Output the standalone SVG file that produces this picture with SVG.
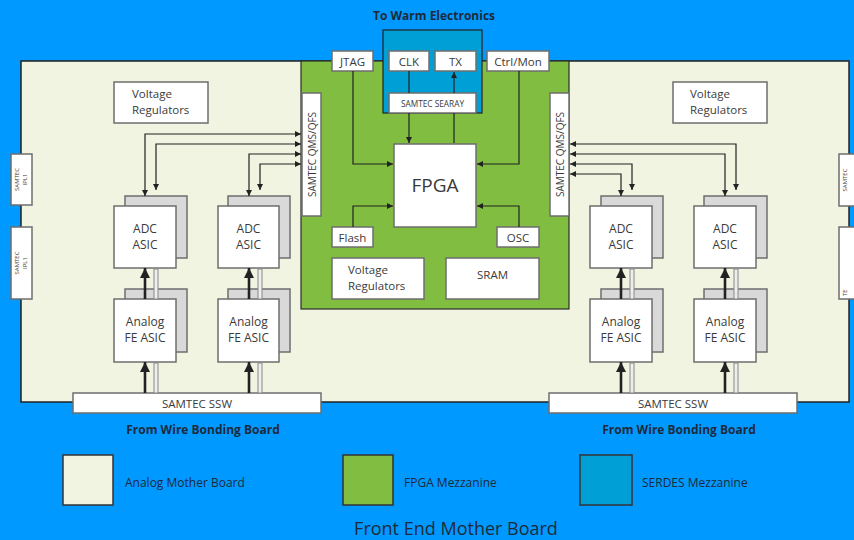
<svg xmlns="http://www.w3.org/2000/svg" width="854" height="540" viewBox="0 0 854 540">
<style>
text{font-family:"Open Sans","Liberation Sans",sans-serif;fill:#3a3a3a}
.box{fill:#fff;stroke:#6e6e6e;stroke-width:1.5}
.sh{fill:#d9d9d9;stroke:#6e6e6e;stroke-width:1.5}
.t12{font-size:12px;text-anchor:middle}
.t11{font-size:11.5px}
.c{text-anchor:middle}
.ln{fill:none;stroke:#222;stroke-width:1.2}
.thick{fill:none;stroke:#222;stroke-width:2.6}
.pipe{fill:#eee;stroke:#888;stroke-width:1}
.bold{font-weight:bold;font-size:12px;text-anchor:middle;fill:#1e2a3a}
.leg{font-size:12px;fill:#1e2a3a}
</style>
<defs>
<marker id="ah" viewBox="0 0 10 10" refX="10" refY="5" markerWidth="7" markerHeight="6" markerUnits="userSpaceOnUse" orient="auto-start-reverse"><path d="M0,0 L10,5 L0,10 Z" fill="#222"/></marker>
<marker id="ahb" viewBox="0 0 10 10" refX="10" refY="5" markerWidth="10" markerHeight="10" markerUnits="userSpaceOnUse" orient="auto"><path d="M0,0 L10,5 L0,10 Z" fill="#222"/></marker>
</defs>
<rect width="854" height="540" fill="#0099ff"/>

<g id="analog-board"><rect x="21" y="61" width="828" height="341" fill="#f1f4e1" stroke="#222" stroke-width="1.5"/></g>
<g id="fpga-mezz"><rect x="301" y="61" width="268" height="248" fill="#80bd41" stroke="#2a2a2a" stroke-width="1.2"/></g>
<g id="serdes-mezz"><rect x="383" y="30" width="99" height="83" fill="#00a0d6" stroke="#222" stroke-width="1.2"/></g>

<text x="434" y="20" class="bold">To Warm Electronics</text>

<g id="side-left-1"><rect x="11" y="154" width="21" height="51" class="box"/><text transform="translate(19,179.5) rotate(-90)" font-size="6" class="c">SAMTEC</text><text transform="translate(27,179.5) rotate(-90)" font-size="6" class="c">IPL1</text></g>
<g id="side-left-2"><rect x="11" y="227" width="21" height="72" class="box"/><text transform="translate(19,263) rotate(-90)" font-size="6" class="c">SAMTEC</text><text transform="translate(27,263) rotate(-90)" font-size="6" class="c">IPL1</text></g>
<g id="side-right-1"><rect x="839" y="154" width="21" height="52" class="box"/><text transform="translate(847,180) rotate(-90)" font-size="6" class="c">SAMTEC</text></g>
<g id="side-right-2"><rect x="839" y="227" width="21" height="72" class="box"/><text transform="translate(847,296) rotate(-90)" font-size="6">TE</text></g>

<g id="jtag"><rect x="332" y="51" width="41" height="20" class="box"/><text x="352.5" y="66" class="t11 c">JTAG</text></g>
<g id="clk"><rect x="389" y="51" width="40" height="20" class="box"/><text x="409" y="66" class="t11 c">CLK</text></g>
<g id="tx"><rect x="435" y="51" width="41" height="20" class="box"/><text x="455.5" y="66" class="t11 c">TX</text></g>
<g id="ctrlmon"><rect x="487" y="51" width="62" height="20" class="box"/><text x="518" y="66" class="t11 c">Ctrl/Mon</text></g>
<g id="searay"><rect x="389" y="93" width="87" height="20" class="box"/><text x="432.5" y="107" font-size="8.3" class="c">SAMTEC SEARAY</text></g>
<g id="fpga"><rect x="394" y="144" width="82" height="83" class="box"/><text x="435" y="192" font-size="19" class="c">FPGA</text></g>
<g id="flash"><rect x="332" y="227" width="41" height="20" class="box"/><text x="352.5" y="242" class="t11 c">Flash</text></g>
<g id="osc"><rect x="497" y="227" width="42" height="20" class="box"/><text x="518" y="242" class="t11 c">OSC</text></g>
<g id="vreg-center"><rect x="332" y="258" width="92" height="41" class="box"/><text x="348" y="274" class="t11">Voltage</text><text x="348" y="290" class="t11">Regulators</text></g>
<g id="sram"><rect x="446" y="258" width="93" height="41" class="box"/><text x="492.5" y="279" class="t11 c">SRAM</text></g>
<g id="qms-left"><rect x="302" y="93" width="19" height="123" class="box"/><text transform="translate(315.5,154.5) rotate(-90)" font-size="10" class="c">SAMTEC QMS/QFS</text></g>
<g id="qms-right"><rect x="550" y="93" width="19" height="123" class="box"/><text transform="translate(563.5,154.5) rotate(-90)" font-size="10" class="c">SAMTEC QMS/QFS</text></g>

<g id="vreg-left"><rect x="114" y="82" width="94" height="41" class="box"/><text x="132" y="98" class="t11">Voltage</text><text x="132" y="114" class="t11">Regulators</text></g>
<g id="vreg-right"><rect x="673" y="82" width="94" height="41" class="box"/><text x="690" y="98" class="t11">Voltage</text><text x="690" y="114" class="t11">Regulators</text></g>

<g id="adc-l1"><rect x="125" y="196" width="62" height="62" class="sh"/><rect x="114" y="206" width="62" height="62" class="box"/><text x="145" y="233" class="t12">ADC</text><text x="145" y="249" class="t12">ASIC</text></g>
<g id="adc-l2"><rect x="228" y="196" width="62" height="62" class="sh"/><rect x="218" y="206" width="61" height="62" class="box"/><text x="248.5" y="233" class="t12">ADC</text><text x="248.5" y="249" class="t12">ASIC</text></g>
<g id="fe-l1"><rect x="125" y="289" width="62" height="63" class="sh"/><rect x="114" y="299" width="62" height="63" class="box"/><text x="145" y="326" class="t12">Analog</text><text x="145" y="342" class="t12">FE ASIC</text></g>
<g id="fe-l2"><rect x="228" y="289" width="62" height="63" class="sh"/><rect x="218" y="299" width="61" height="63" class="box"/><text x="248.5" y="326" class="t12">Analog</text><text x="248.5" y="342" class="t12">FE ASIC</text></g>
<g id="adc-r1"><rect x="601" y="196" width="62" height="62" class="sh"/><rect x="590" y="206" width="62" height="62" class="box"/><text x="621" y="233" class="t12">ADC</text><text x="621" y="249" class="t12">ASIC</text></g>
<g id="adc-r2"><rect x="704" y="196" width="63" height="62" class="sh"/><rect x="694" y="206" width="62" height="62" class="box"/><text x="725" y="233" class="t12">ADC</text><text x="725" y="249" class="t12">ASIC</text></g>
<g id="fe-r1"><rect x="601" y="289" width="62" height="63" class="sh"/><rect x="590" y="299" width="62" height="63" class="box"/><text x="621" y="326" class="t12">Analog</text><text x="621" y="342" class="t12">FE ASIC</text></g>
<g id="fe-r2"><rect x="704" y="289" width="63" height="63" class="sh"/><rect x="694" y="299" width="62" height="63" class="box"/><text x="725" y="326" class="t12">Analog</text><text x="725" y="342" class="t12">FE ASIC</text></g>

<g id="ssw-left"><rect x="73" y="393" width="248" height="20" class="box"/><text x="197" y="408" class="t11 c">SAMTEC SSW</text></g>
<g id="ssw-right"><rect x="549" y="393" width="248" height="20" class="box"/><text x="673" y="408" class="t11 c">SAMTEC SSW</text></g>
<text x="203" y="434" class="bold">From Wire Bonding Board</text>
<text x="679" y="434" class="bold">From Wire Bonding Board</text>

<g id="connectors">
<path class="ln" d="M353,71 V164 H393" marker-end="url(#ah)"/>
<path class="ln" d="M519,71 V164 H477" marker-end="url(#ah)"/>
<path class="ln" d="M353,227 V206 H393" marker-end="url(#ah)"/>
<path class="ln" d="M519,227 V206 H477" marker-end="url(#ah)"/>
<path class="ln" d="M409,71 V93"/>
<path class="ln" d="M409,113 V143" marker-end="url(#ah)"/>
<path class="ln" d="M454,93 V72" marker-end="url(#ah)"/>
<path class="ln" d="M454,143 V113"/>
<path class="ln" d="M145,196 V134 H301" marker-start="url(#ah)" marker-end="url(#ah)"/>
<path class="ln" d="M156,190 V144 H301" marker-start="url(#ah)" marker-end="url(#ah)"/>
<path class="ln" d="M249,196 V154 H301" marker-start="url(#ah)" marker-end="url(#ah)"/>
<path class="ln" d="M260,190 V164 H301" marker-start="url(#ah)" marker-end="url(#ah)"/>
<path class="ln" d="M736,190 V144 H570" marker-start="url(#ah)" marker-end="url(#ah)"/>
<path class="ln" d="M725,196 V154 H570" marker-start="url(#ah)" marker-end="url(#ah)"/>
<path class="ln" d="M632,190 V164 H570" marker-start="url(#ah)" marker-end="url(#ah)"/>
<path class="ln" d="M621,196 V174 H570" marker-start="url(#ah)" marker-end="url(#ah)"/>
<path class="thick" d="M145,299 V268" marker-end="url(#ahb)"/>
<path class="thick" d="M249,299 V268" marker-end="url(#ahb)"/>
<path class="thick" d="M621,299 V268" marker-end="url(#ahb)"/>
<path class="thick" d="M725,299 V268" marker-end="url(#ahb)"/>
<path class="thick" d="M145,393 V362" marker-end="url(#ahb)"/>
<path class="thick" d="M249,393 V362" marker-end="url(#ahb)"/>
<path class="thick" d="M621,393 V362" marker-end="url(#ahb)"/>
<path class="thick" d="M725,393 V362" marker-end="url(#ahb)"/>
<rect class="pipe" x="154" y="269" width="4" height="30"/>
<rect class="pipe" x="258" y="269" width="4" height="30"/>
<rect class="pipe" x="630" y="269" width="4" height="30"/>
<rect class="pipe" x="734" y="269" width="4" height="30"/>
<rect class="pipe" x="154" y="363" width="4" height="30"/>
<rect class="pipe" x="258" y="363" width="4" height="30"/>
<rect class="pipe" x="630" y="363" width="4" height="30"/>
<rect class="pipe" x="734" y="363" width="4" height="30"/>
</g>

<g id="legend">
<rect x="63" y="455" width="50" height="50" fill="#f1f4e1" stroke="#333" stroke-width="1.5"/>
<text x="125" y="487" class="leg">Analog Mother Board</text>
<rect x="343" y="455" width="50" height="50" fill="#80bd41" stroke="#333" stroke-width="1.5"/>
<text x="404" y="487" class="leg">FPGA Mezzanine</text>
<rect x="580" y="455" width="52" height="50" fill="#00a0d6" stroke="#333" stroke-width="1.5"/>
<text x="642" y="487" class="leg">SERDES Mezzanine</text>
</g>
<text x="456" y="535" font-size="18" class="c" style="fill:#1e2a3a">Front End Mother Board</text>
</svg>
